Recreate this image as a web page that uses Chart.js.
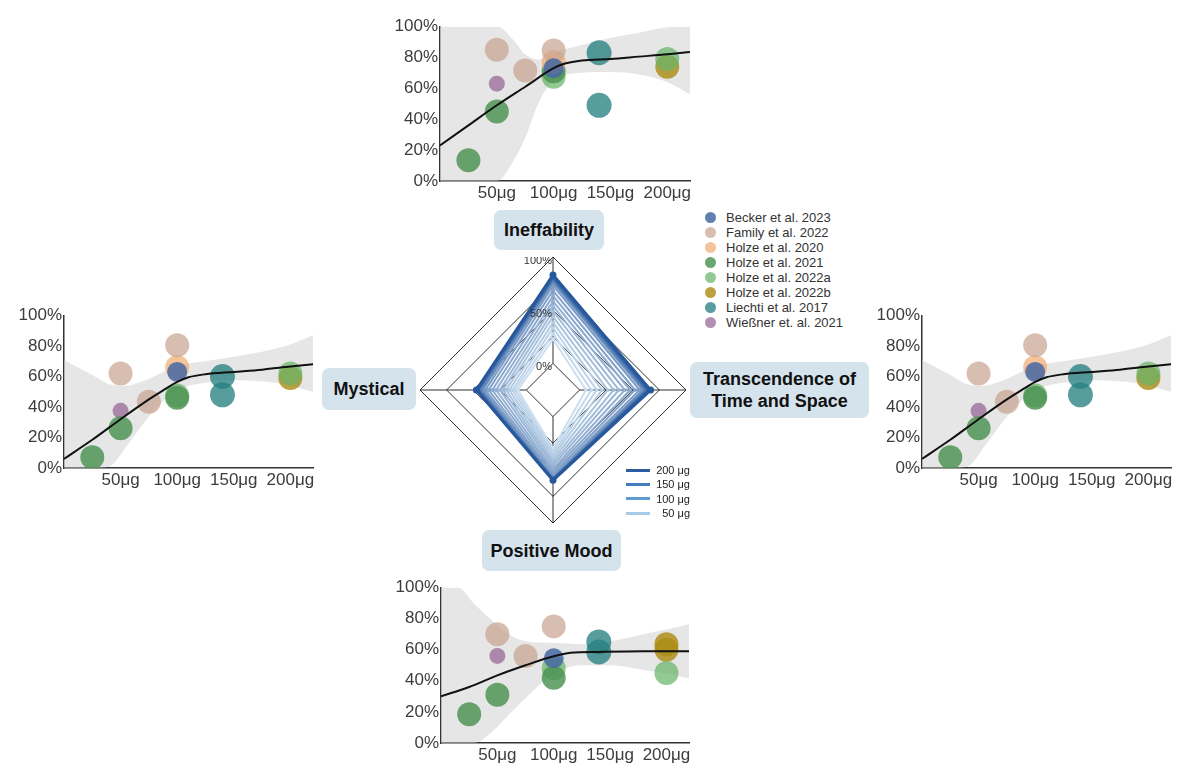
<!DOCTYPE html>
<html><head><meta charset="utf-8">
<script src="https://cdn.jsdelivr.net/npm/chart.js@4.4.1/dist/chart.umd.min.js"></script>
<style>
html,body{margin:0;padding:0;}
body{width:1200px;height:776px;background:#fff;position:relative;overflow:hidden;font-family:"Liberation Sans",Arial,sans-serif;}
.wrap{position:absolute;}
.lbl{position:absolute;background:#d5e3ed;border-radius:7px;display:flex;align-items:center;justify-content:center;text-align:center;font-weight:bold;font-size:18px;color:#111;line-height:22px;box-sizing:border-box;padding:0 6px;}
#legend{position:absolute;left:705px;top:210px;font-size:13px;color:#333;}
#legend .row{height:15px;display:flex;align-items:center;white-space:nowrap;}
#legend .dot{width:11px;height:11px;border-radius:50%;margin-right:10px;}
#rlegend{position:absolute;left:626px;top:463px;font-size:11px;color:#222;}
#rlegend .row{height:14.3px;display:flex;align-items:center;}
#rlegend .ln{width:24px;height:3px;margin-right:4px;}
#rlegend .tx{width:36px;text-align:right;}
</style></head><body>
<div class="wrap" style="left:390px;top:14px;width:314px;height:193px"><canvas id="cTop"></canvas></div>
<div class="wrap" style="left:14px;top:303px;width:313px;height:191px"><canvas id="cLeft"></canvas></div>
<div class="wrap" style="left:872px;top:303px;width:313px;height:191px"><canvas id="cRight"></canvas></div>
<div class="wrap" style="left:391px;top:575px;width:312px;height:194px"><canvas id="cBottom"></canvas></div>
<div class="wrap" style="left:420px;top:257px;width:266px;height:266px"><canvas id="cRadar"></canvas></div>
<div class="lbl" id="l0" style="left:494px;top:210px;width:110px;height:40px"></div>
<div class="lbl" id="l1" style="left:690px;top:362px;width:179px;height:56px"></div>
<div class="lbl" id="l2" style="left:482px;top:530px;width:139px;height:41px"></div>
<div class="lbl" id="l3" style="left:322px;top:368px;width:94px;height:42px"></div>
<div id="legend"></div>
<div id="rlegend"></div>
<script>
// ---------- data ----------
const studies = ['Becker et al. 2023','Family et al. 2022','Holze et al. 2020','Holze et al. 2021','Holze et al. 2022a','Holze et al. 2022b','Liechti et al. 2017','Wießner et. al. 2021'];
const doseTicks = [50,100,150,200];
const pctTicks = [0,20,40,60,80,100];

// Ineffability (top panel)
const ineffStudy = [3,3,1,7,1,1,2,3,4,0,6,6,4,5];
const ineffDose  = [25,50,50,50,75,100,100,100,100,100,140,140,200,200];
const ineffValue = [13.5,45,85,63,71.5,84.5,77,71,67.5,73,83,49,79,74];
const ineffFitDose = [0,25,50,75,100,110,125,150,175,200,220];
const ineffFit     = [23,36,49,61,73,76,78,79,80.5,82,83.5];
const ineffBandDose  = [0,25,50,65,75,87,100,125,150,175,200,220];
const ineffBandUpper = [100,100,100,91,82,78.5,83,88,92.5,96,99.5,100];
const ineffBandLower = [0,0,0,13.5,28,51,65,70,70.5,69,64,56];

// Mystical / Transcendence (left and right panels, drawn identically)
const mystStudy = [3,3,7,1,1,1,2,0,3,4,6,6,4,5];
const mystDose  = [25,50,50,50,75,100,100,100,100,100,140,140,200,200];
const mystValue = [7,26,37.5,62,43.5,80.5,66,63,46,47.5,60,48,62,59];
const mystFitDose = [0,25,50,75,90,100,110,125,150,175,200,220];
const mystFit     = [6,18.5,32,45,52,56.5,59.5,61.5,63,64.5,66.5,68];
const mystBandDose  = [0,25,40,55,70,85,100,120,150,180,200,220];
const mystBandUpper = [70.6,61,55,54,57,62,67,69.5,73,77,81,87];
const mystBandLower = [0,0,1,14,29,42,51,55.4,57.6,56.5,54,50];

// Positive Mood (bottom panel)
const moodStudy = [3,3,7,1,1,1,0,4,3,6,6,5,5,4];
const moodDose  = [25,50,50,50,75,100,100,100,100,140,140,200,200,200];
const moodValue = [18.5,31,56,70,56,75,54.5,48,42,65,58.5,63.5,60,45];
const moodFitDose = [0,25,50,75,100,115,140,180,220];
const moodFit     = [30,36,43.5,50,55.8,58,58.6,59,59];
const moodBandDose  = [0,15,30,45,60,75,100,125,150,180,200,220];
const moodBandUpper = [100,100,89,79,70,65.5,64.4,63.5,65.5,70,73,76.4];
const moodBandLower = [0,0,0,7,18,29,44.6,50,50,47,44.5,41.4];

// Radar
const radarAxes = ['Ineffability','Transcendence of Time and Space','Positive Mood','Mystical'];
const radarRings = [-25,0,25,50,75,100];
const radarTickLabels = [0,50,100];
const radarDoses = [0,10,20,30,40,50,60,70,80,90,100,110,120,130,140,150,160,170,180,190,200];
const radarIneff = [23,28,33.5,38.5,44,49,54,58.5,63.5,68.5,73,76,77.5,78.3,78.8,79.3,79.9,80.5,81.2,82,83];
const radarTrans = [6,11,16,21,26.5,32,37,42.5,47.5,52,56.5,59.5,61,62,62.5,63,63.6,64.2,64.9,65.7,66.7];
const radarMood  = [30,32.5,35,37.5,40.5,43.5,46,49,51.5,54,55.8,57.3,58,58.4,58.6,58.7,58.8,58.9,59.1,59.4,59.8];
const radarMyst  = [8,10.5,13,16,19,22,25,28.5,32,35.5,38.5,41,42.5,43.5,44.2,44.8,45.3,45.8,46.2,46.6,47];
const radarLegendDoses = [200,150,100,50];

// ---------- styles ----------
const studyColors = ['rgba(70,105,165,0.85)','rgba(200,165,145,0.72)','rgba(240,170,110,0.7)','rgba(75,145,80,0.82)','rgba(105,182,105,0.72)','rgba(172,140,22,0.82)','rgba(40,130,130,0.78)','rgba(150,100,150,0.72)'];
const studyRadius = [10,12,12,12,12,12,12.5,8];
const radarLegendColors = ['#2b5c9f','#3f7fc0','#5d9dd3','#a5cbe6'];

Chart.defaults.font.family = '"Liberation Sans", Arial, sans-serif';

function xy(xs, ys){ return xs.map((x,i)=>({x:x, y:ys[i]})); }

function panel(id, st, ds, vs, fd, fv, bd, bu, bl){
  const datasets = [];
  studies.forEach((name, s)=>{
    const pts = [];
    st.forEach((k,i)=>{ if(k===s) pts.push({x:ds[i], y:vs[i]}); });
    if(pts.length) datasets.push({type:'scatter', label:name, data:pts, backgroundColor:studyColors[s], borderWidth:0, pointRadius:studyRadius[s], order:2});
  });
  datasets.push({type:'line', data:xy(fd,fv), borderColor:'#111', borderWidth:2, pointRadius:0, fill:false, cubicInterpolationMode:'monotone', order:1});
  datasets.push({type:'line', data:xy(bd,bl), borderWidth:0, pointRadius:0, fill:false, cubicInterpolationMode:'monotone', order:3});
  datasets.push({type:'line', data:xy(bd,bu), borderWidth:0, pointRadius:0, fill:'-1', backgroundColor:'rgba(205,205,205,0.5)', cubicInterpolationMode:'monotone', order:3});
  const axisCommon = {
    grid:{display:true, drawOnChartArea:false, drawTicks:false, color:'rgba(0,0,0,0)'},
    border:{display:true, color:'#333', width:1.5}
  };
  new Chart(document.getElementById(id), {
    type:'scatter',
    data:{datasets},
    options:{
      responsive:true, maintainAspectRatio:false, animation:false,
      layout:{padding:{top:12,right:14,left:0,bottom:0}},
      plugins:{legend:{display:false}, tooltip:{enabled:false}},
      scales:{
        x:Object.assign({type:'linear', min:0, max:220,
          afterBuildTicks:a=>{a.ticks = doseTicks.map(v=>({value:v}));},
          afterFit:s=>{s.height=26;},
          ticks:{callback:v=>v+'μg', color:'#3c3c3c', font:{size:17}, padding:2, maxRotation:0, autoSkip:false}}, axisCommon),
        y:Object.assign({type:'linear', min:0, max:100,
          afterBuildTicks:a=>{a.ticks = pctTicks.map(v=>({value:v}));},
          afterFit:s=>{s.width=50;},
          ticks:{callback:v=>v+'%', color:'#3c3c3c', font:{size:17}, padding:2}}, axisCommon)
      }
    }
  });
}

panel('cTop', ineffStudy, ineffDose, ineffValue, ineffFitDose, ineffFit, ineffBandDose, ineffBandUpper, ineffBandLower);
panel('cLeft', mystStudy, mystDose, mystValue, mystFitDose, mystFit, mystBandDose, mystBandUpper, mystBandLower);
panel('cRight', mystStudy, mystDose, mystValue, mystFitDose, mystFit, mystBandDose, mystBandUpper, mystBandLower);
panel('cBottom', moodStudy, moodDose, moodValue, moodFitDose, moodFit, moodBandDose, moodBandUpper, moodBandLower);

// radar
function radarColor(t){
  const a=[203,223,240], b=[40,88,156];
  return 'rgb('+a.map((v,k)=>Math.round(v+(b[k]-v)*t)).join(',')+')';
}
const n = radarDoses.length;
const radarSets = radarDoses.map((d,i)=>{
  const c = radarColor(i/(n-1));
  const last = i===n-1;
  return {label:d+' μg', data:[radarIneff[i], radarTrans[i], radarMood[i], radarMyst[i]],
    borderColor:c, backgroundColor:c, pointBackgroundColor:c, pointBorderWidth:0,
    borderWidth:last?3:2, pointRadius:last?3.5:2, fill:false, order:n-i};
});
const radarDeco = {
  id:'radarDeco',
  beforeDatasetsDraw(chart){
    const s=chart.scales.r, ctx=chart.ctx;
    ctx.save(); ctx.strokeStyle='#1a1a1a'; ctx.lineWidth=0.9;
    for(let i=0;i<radarAxes.length;i++){
      const a=s.getPointPositionForValue(i,0), b=s.getPointPositionForValue(i,100);
      ctx.beginPath(); ctx.moveTo(a.x,a.y); ctx.lineTo(b.x,b.y); ctx.stroke();
    }
    ctx.restore();
  },
  afterDatasetsDraw(chart){
    const s=chart.scales.r, ctx=chart.ctx;
    ctx.save(); ctx.fillStyle='#333'; ctx.font='11px "Liberation Sans", Arial, sans-serif';
    ctx.textAlign='right'; ctx.textBaseline='middle';
    radarTickLabels.forEach(v=>{ const p=s.getPointPositionForValue(0,v); ctx.fillText(v+'%', p.x-1, p.y+4); });
    ctx.restore();
  }
};
new Chart(document.getElementById('cRadar'), {
  type:'radar',
  data:{labels:radarAxes, datasets:radarSets},
  plugins:[radarDeco],
  options:{
    responsive:true, maintainAspectRatio:false, animation:false,
    layout:{padding:0},
    elements:{line:{tension:0}},
    plugins:{legend:{display:false}, tooltip:{enabled:false}},
    scales:{r:{min:-25, max:100,
      afterBuildTicks:a=>{a.ticks = radarRings.map(v=>({value:v}));},
      ticks:{display:false},
      grid:{color:'#1a1a1a', lineWidth:0.9},
      angleLines:{display:false},
      pointLabels:{display:false}}}
  }
});

// labels
radarAxes.forEach((t,i)=>{ document.getElementById('l'+i).textContent = t; });
// study legend
const lg = document.getElementById('legend');
studies.forEach((s,i)=>{
  const r=document.createElement('div'); r.className='row';
  r.innerHTML='<span class="dot" style="background:'+studyColors[i]+'"></span><span>'+s+'</span>';
  lg.appendChild(r);
});
// radar legend
const rl = document.getElementById('rlegend');
radarLegendDoses.forEach((d,i)=>{
  const r=document.createElement('div'); r.className='row';
  r.innerHTML='<span class="ln" style="background:'+radarLegendColors[i]+'"></span><span class="tx">'+d+' μg</span>';
  rl.appendChild(r);
});
</script>
</body></html>
